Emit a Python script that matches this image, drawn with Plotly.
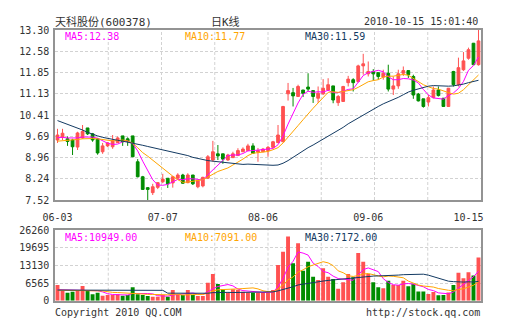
import plotly.graph_objects as go

# ---- daily K-line data (天科股份 600378) ----
open_ = [9.56, 9.65, 9.60, 9.56, 9.32, 9.63, 9.97, 9.77, 9.60, 9.16,
         9.36, 9.33, 9.47, 9.70, 9.60, 9.70, 8.82, 8.31, 7.94, 7.77,
         7.95, 8.14, 8.26, 8.10, 8.26, 8.37, 8.11, 8.37, 7.97, 8.00,
         8.26, 8.88, 9.09, 9.09, 8.88, 8.96, 9.03, 9.16, 9.20, 9.36,
         9.15, 9.16, 9.20, 9.31, 9.47, 9.50, 11.13, 11.17, 11.04, 11.26,
         11.36, 11.24, 10.98, 11.13, 11.26, 11.40, 10.83, 10.87, 11.51, 11.61,
         11.55, 12.08, 11.81, 11.89, 11.85, 11.70, 11.83, 11.29, 11.40, 11.83,
         11.92, 11.72, 11.12, 10.96, 10.85, 11.00, 11.26, 10.98, 10.70, 11.89,
         11.44, 11.95, 12.34, 12.85, 12.12]
high = [9.94, 9.94, 9.68, 9.60, 9.84, 10.07, 9.97, 9.80, 9.63, 9.46,
        9.49, 9.73, 9.68, 9.70, 9.65, 9.70, 8.91, 8.34, 7.96, 8.07,
        8.13, 8.41, 8.26, 8.34, 8.43, 8.41, 8.43, 8.37, 8.20, 8.31,
        9.05, 9.53, 9.39, 9.09, 9.09, 9.16, 9.28, 9.31, 9.43, 9.45,
        9.29, 9.29, 9.36, 9.53, 10.07, 10.72, 11.50, 11.33, 11.44, 11.26,
        11.83, 11.24, 11.38, 11.63, 11.66, 11.40, 11.09, 11.40, 11.74, 11.66,
        12.12, 12.49, 12.23, 11.97, 11.85, 11.95, 12.12, 11.72, 11.95, 12.06,
        11.92, 11.78, 11.16, 10.96, 11.09, 11.38, 11.38, 10.99, 11.33, 11.91,
        12.36, 12.55, 12.70, 12.86, 13.30]
low = [9.46, 9.56, 9.36, 9.05, 9.22, 9.60, 9.73, 9.50, 9.06, 9.09,
       9.32, 9.26, 9.46, 9.36, 9.36, 8.98, 8.29, 7.86, 7.52, 7.69,
       7.89, 8.09, 7.93, 7.94, 8.23, 8.07, 8.09, 8.03, 7.92, 7.95,
       8.24, 8.82, 8.88, 8.75, 8.85, 8.95, 9.02, 9.15, 9.19, 9.09,
       8.82, 9.15, 8.99, 9.29, 9.46, 9.49, 10.90, 10.70, 11.02, 11.02,
       11.21, 10.82, 10.82, 11.09, 11.24, 10.81, 10.72, 10.86, 11.38, 11.21,
       11.51, 11.78, 11.72, 11.58, 11.61, 11.61, 11.21, 11.09, 11.30, 11.74,
       11.67, 10.96, 10.87, 10.66, 10.70, 10.98, 11.04, 10.69, 10.69, 11.38,
       11.38, 11.91, 12.29, 12.12, 12.09]
close = [9.73, 9.79, 9.51, 9.33, 9.80, 9.85, 9.77, 9.56, 9.12, 9.36,
         9.46, 9.54, 9.63, 9.50, 9.51, 8.99, 8.31, 7.88, 7.88, 7.97,
         8.11, 8.23, 8.07, 8.31, 8.37, 8.09, 8.37, 8.07, 8.18, 8.29,
         8.99, 9.16, 9.02, 8.91, 9.05, 9.09, 9.20, 9.25, 9.36, 9.11,
         9.20, 9.25, 9.31, 9.50, 9.73, 10.70, 11.24, 11.06, 11.38, 11.15,
         11.29, 11.04, 11.15, 11.32, 11.44, 10.92, 11.04, 11.38, 11.63, 11.51,
         12.08, 12.15, 11.89, 11.81, 11.72, 11.83, 11.29, 11.40, 11.81, 11.92,
         11.78, 11.09, 10.89, 10.70, 11.00, 11.26, 11.07, 10.70, 11.32, 11.44,
         12.02, 12.25, 12.63, 12.12, 12.93]
volume = [5830, 3600, 2980, 3350, 3970, 5460, 3700, 2360, 2980, 1870,
          2120, 2120, 2360, 1870, 2120, 4960, 2360, 2120, 1740, 1500,
          1500, 2120, 1500, 3970, 2120, 2120, 3970, 2120, 1740, 1740,
          6700, 9920, 6200, 4220, 2980, 4220, 3970, 3350, 3000, 2985,
          2985, 2985, 2985, 3970, 13250, 18210, 23870, 13880, 21310, 11150,
          14500, 8930, 7690, 12020, 8930, 8100, 4400, 6850, 9950, 8700,
          17750, 14500, 9950, 6850, 5000, 4600, 7450, 5850, 5850, 7450,
          5350, 6250, 3400, 3400, 2500, 3200, 2050, 2120, 3000, 5800,
          10400, 8300, 10600, 9400, 16050]

# moving averages of price
ma5 = [9.64, 9.65, 9.63, 9.62, 9.63, 9.66, 9.65, 9.66, 9.62, 9.53,
       9.45, 9.41, 9.42, 9.50, 9.53, 9.44, 9.19, 8.84, 8.52, 8.21,
       8.03, 8.02, 8.05, 8.14, 8.22, 8.21, 8.24, 8.24, 8.22, 8.20,
       8.38, 8.54, 8.73, 8.88, 9.03, 9.05, 9.05, 9.10, 9.19, 9.20,
       9.22, 9.23, 9.25, 9.27, 9.40, 9.70, 10.10, 10.45, 10.82, 11.11,
       11.22, 11.18, 11.20, 11.19, 11.25, 11.17, 11.17, 11.22, 11.28, 11.30,
       11.53, 11.75, 11.85, 11.89, 11.93, 11.88, 11.71, 11.61, 11.61, 11.65,
       11.64, 11.60, 11.50, 11.28, 11.09, 10.99, 10.98, 10.95, 11.07, 11.16,
       11.31, 11.55, 11.93, 12.09, 12.38]
ma10 = [9.52, 9.53, 9.54, 9.56, 9.58, 9.60, 9.61, 9.61, 9.60, 9.58,
        9.56, 9.53, 9.54, 9.56, 9.53, 9.45, 9.30, 9.13, 9.01, 8.87,
        8.73, 8.60, 8.45, 8.33, 8.21, 8.12, 8.13, 8.15, 8.18, 8.21,
        8.30, 8.39, 8.49, 8.55, 8.61, 8.71, 8.80, 8.91, 9.03, 9.11,
        9.13, 9.14, 9.17, 9.23, 9.30, 9.46, 9.67, 9.85, 10.05, 10.25,
        10.46, 10.64, 10.82, 11.01, 11.18, 11.20, 11.18, 11.21, 11.24, 11.27,
        11.35, 11.46, 11.54, 11.58, 11.61, 11.70, 11.73, 11.73, 11.75, 11.79,
        11.76, 11.65, 11.55, 11.44, 11.37, 11.31, 11.29, 11.22, 11.17, 11.12,
        11.15, 11.27, 11.44, 11.58, 11.77]
ma30 = [10.22, 10.16, 10.10, 10.04, 9.97, 9.90, 9.82, 9.75, 9.70, 9.65,
        9.61, 9.58, 9.55, 9.52, 9.49, 9.45, 9.42, 9.38, 9.34, 9.30,
        9.27, 9.23, 9.19, 9.15, 9.12, 9.08, 9.03, 8.97, 8.93, 8.89,
        8.86, 8.84, 8.82, 8.81, 8.79, 8.76, 8.74, 8.73, 8.74, 8.73,
        8.72, 8.71, 8.70, 8.70, 8.71, 8.77, 8.86, 8.97, 9.09, 9.19,
        9.30, 9.39, 9.49, 9.59, 9.70, 9.79, 9.88, 9.99, 10.11, 10.21,
        10.32, 10.42, 10.51, 10.61, 10.70, 10.79, 10.86, 10.93, 11.01, 11.10,
        11.19, 11.25, 11.30, 11.34, 11.39, 11.41, 11.40, 11.39, 11.39, 11.40,
        11.42, 11.46, 11.51, 11.54, 11.59]

# moving averages of volume
vma5 = [4100, 4050, 4000, 3950, 3946, 3872, 3892, 3768, 3694, 3274,
        2606, 2290, 2290, 2068, 2118, 2686, 2734, 2686, 2660, 2536,
        1844, 1796, 1672, 2118, 2242, 2366, 2736, 2860, 2414, 2338,
        3254, 4444, 5260, 5756, 6004, 5508, 4318, 3748, 3504, 3505,
        3258, 3061, 2988, 3182, 5235, 8280, 12457, 14636, 18104, 17684,
        16942, 13954, 12716, 10858, 10414, 9134, 8228, 8060, 7646, 7600,
        9530, 11550, 12170, 11550, 10810, 8180, 6770, 5950, 5750, 6240,
        6390, 6150, 5660, 5170, 4180, 3750, 2910, 2654, 2574, 3234,
        4674, 5924, 7620, 8900, 10949]
vma10 = [3900, 3900, 3850, 3850, 3800, 3800, 3750, 3700, 3650, 3610,
         3239, 3091, 3029, 2881, 2696, 2646, 2512, 2488, 2364, 2327,
         2265, 2265, 2179, 2389, 2389, 2105, 2266, 2266, 2266, 2290,
         2810, 3590, 4060, 4085, 4171, 4381, 4381, 4504, 4630, 4755,
         4383, 3690, 3368, 3343, 4370, 5769, 7759, 8812, 10643, 11460,
         12611, 13206, 13676, 14481, 14049, 13038, 11091, 10388, 9252, 9007,
         9332, 9889, 10115, 9598, 9205, 8855, 9160, 9060, 8650, 8525,
         7285, 6460, 5805, 5460, 5210, 5070, 4530, 4157, 3872, 3707,
         4212, 4417, 5137, 5737, 7091]
vma30 = [3950, 3950, 3940, 3940, 3930, 3930, 3920, 3920, 3910, 3910,
         3900, 3900, 3890, 3890, 3880, 3880, 3870, 3870, 3860, 3860,
         3850, 3850, 2800, 2790, 2780, 2770, 2760, 2750, 2745, 2742,
         2771, 2982, 3089, 3118, 3085, 3044, 3053, 3086, 3087, 3124,
         3153, 3182, 3202, 3272, 3643, 4085, 4802, 5194, 5846, 6168,
         6601, 6828, 7035, 7303, 7530, 7729, 7744, 7901, 8175, 8407,
         8775, 8928, 9053, 9141, 9208, 9221, 9337, 9420, 9515, 9664,
         9743, 9852, 9865, 9846, 9488, 8988, 8260, 7868, 7258, 7080,
         6943, 6922, 7019, 6932, 7172]

date_labels = ["06-03", "07-07", "08-06", "09-06", "10-15"]
date_index = [0, 21, 41, 62, 82]
price_ticks = ["7.52", "8.24", "8.96", "9.69", "10.41", "11.13", "11.85", "12.58", "13.30"]
vol_ticks = ["0", "6565", "13130", "19695", "26260"]

# ---- styling ----
W, H = 505, 330
RED, GREEN = "#ff5151", "#008c00"
C_MA5, C_MA10, C_MA30 = "#ff00ff", "#ffa500", "#133a62"
GRID, FRAME, TXT = "#d2d2d2", "#939393", "#333333"
MONO = "DejaVu Sans Mono, Noto Sans CJK SC, monospace"

def px_x(px):
    return px / W

def px_y(py):
    return 1 - py / H

n = len(close)
idx = list(range(n))
p_lo, p_hi = 7.52, 13.30
v_hi = 26260
price_vals = [p_lo + i * (p_hi - p_lo) / 8 for i in range(9)]
vol_vals = [i * v_hi / 4 for i in range(5)]

fig = go.Figure()
fig.add_trace(go.Candlestick(
    x=idx, open=open_, high=high, low=low, close=close,
    increasing=dict(line=dict(color=RED, width=1), fillcolor=RED),
    decreasing=dict(line=dict(color=GREEN, width=1), fillcolor=GREEN),
    whiskerwidth=0, xaxis="x", yaxis="y", showlegend=False, hoverinfo="skip"))
for vals, col in ((ma5, C_MA5), (ma10, C_MA10), (ma30, C_MA30)):
    fig.add_trace(go.Scatter(x=idx, y=vals, mode="lines", line=dict(color=col, width=1),
                             xaxis="x", yaxis="y", showlegend=False, hoverinfo="skip"))

bar_colors = [RED if c >= o else GREEN for o, c in zip(open_, close)]
fig.add_trace(go.Bar(x=idx, y=volume, marker=dict(color=bar_colors, line=dict(width=0)),
                     width=0.78, xaxis="x2", yaxis="y2", showlegend=False, hoverinfo="skip"))
for vals, col in ((vma5, C_MA5), (vma10, C_MA10), (vma30, C_MA30)):
    fig.add_trace(go.Scatter(x=idx, y=vals, mode="lines", line=dict(color=col, width=1),
                             xaxis="x2", yaxis="y2", showlegend=False, hoverinfo="skip"))

x_dom = [px_x(55), px_x(481)]
axis_common = dict(showline=True, mirror=True, linecolor=FRAME, linewidth=1.5,
                   zeroline=False, fixedrange=True, automargin=False,
                   tickfont=dict(family=MONO, size=10, color=TXT))

fig.update_layout(
    template="none",
    width=W, height=H, margin=dict(l=0, r=0, t=0, b=0, pad=0),
    paper_bgcolor="white", plot_bgcolor="white", boxgap=0.22,
    xaxis=dict(domain=x_dom, range=[-0.5, n - 0.5], anchor="y",
               tickvals=date_index, ticktext=date_labels, showgrid=False,
               ticks="outside", ticklen=7, tickcolor="rgba(0,0,0,0)",
               rangeslider=dict(visible=False), **axis_common),
    yaxis=dict(domain=[px_y(200), px_y(30)], range=[p_lo, p_hi], anchor="x",
               tickvals=price_vals, ticktext=price_ticks,
               showgrid=True, gridcolor=GRID, griddash="3px,2px", gridwidth=1,
               ticks="outside", ticklen=2, tickcolor="rgba(0,0,0,0)", **axis_common),
    xaxis2=dict(domain=x_dom, range=[-0.5, n - 0.5], anchor="y2",
                showticklabels=False, showgrid=False, **axis_common),
    yaxis2=dict(domain=[px_y(300.7), px_y(230)], range=[0, v_hi], anchor="x2",
                tickvals=vol_vals, ticktext=vol_ticks,
                showgrid=True, gridcolor=GRID, griddash="3px,2px", gridwidth=1,
                ticks="outside", ticklen=2, tickcolor="rgba(0,0,0,0)", **axis_common),
)

# vertical dashed grid, eight equal columns in both panels
shapes = []
for xr, yr in (("x domain", "y domain"), ("x2 domain", "y2 domain")):
    for i in range(1, 8):
        shapes.append(dict(type="line", xref=xr, yref=yr, x0=i / 8, x1=i / 8, y0=0, y1=1,
                           line=dict(color=GRID, width=1, dash="3px,2px"), layer="below"))
fig.update_layout(shapes=shapes)

def label(text, x, y, color=TXT, anchor="left", size=10):
    fig.add_annotation(text=text, x=px_x(x), y=px_y(y), xref="paper", yref="paper",
                       xanchor=anchor, yanchor="middle", showarrow=False, borderpad=0,
                       font=dict(family=MONO, size=size, color=color))

label("天科股份(600378)", 54, 21.5, size=11)
label("日K线", 225, 21.5, anchor="center", size=11)
label("2010-10-15 15:01:40", 479, 21.5, anchor="right")

label(f"MA5:{ma5[-1]:.2f}", 64, 37, C_MA5)
label(f"MA10:{ma10[-1]:.2f}", 184, 37, C_MA10)
label(f"MA30:{ma30[-1]:.2f}", 304, 37, C_MA30)
label(f"MA5:{vma5[-1]:.2f}", 64, 237, C_MA5)
label(f"MA10:{vma10[-1]:.2f}", 184, 237, C_MA10)
label(f"MA30:{vma30[-1]:.2f}", 304, 237, C_MA30)

label("Copyright 2010 QQ.COM", 54, 312)
label("http://stock.qq.com", 481, 312, anchor="right")

fig.write_html("out.html")
